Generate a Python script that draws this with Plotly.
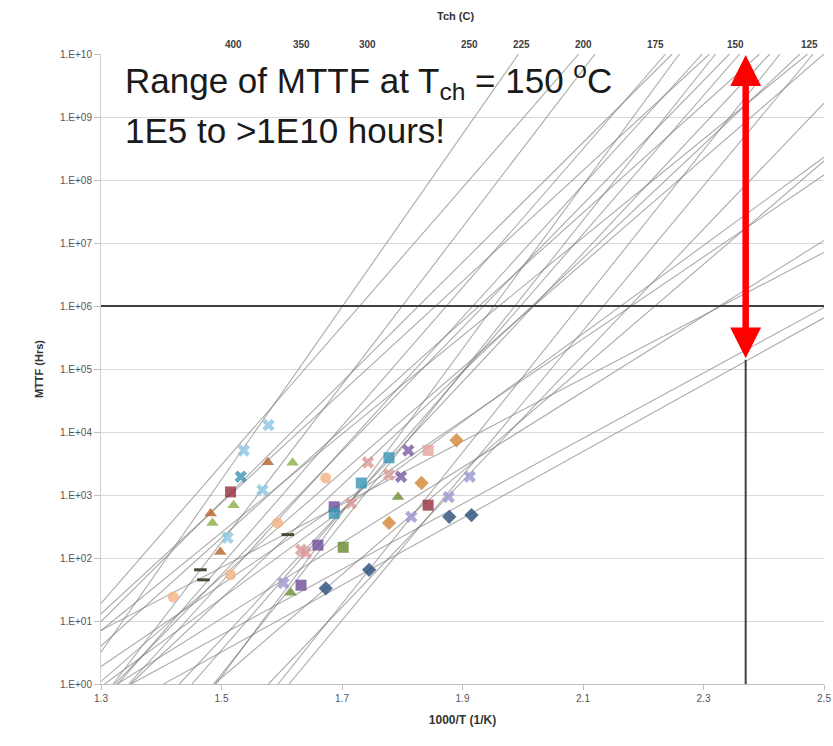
import math
import plotly.graph_objects as go

# ---------------- data ----------------
temps_C = [400, 350, 300, 250, 225, 200, 175, 150, 125]
# where the reference chart places each Tch label along the 1000/T axis
tch_tick_x = [1.503, 1.615, 1.743, 1.912, 1.998, 2.118, 2.237, 2.370, 2.493]
x_ticks = [1.3, 1.5, 1.7, 1.9, 2.1, 2.3, 2.5]
x_tick_labels = ["1.3", "1.5", "1.7", "1.9", "2.1", "2.3", "2.5"]
y_ticks = [1e0, 1e1, 1e2, 1e3, 1e4, 1e5, 1e6, 1e7, 1e8, 1e9, 1e10]
y_tick_labels = ["1.E+00", "1.E+01", "1.E+02", "1.E+03", "1.E+04", "1.E+05",
                 "1.E+06", "1.E+07", "1.E+08", "1.E+09", "1.E+10"]

# Arrhenius trend lines: start / end points (1000/T, MTTF hrs) read where they meet the frame
line_x_start = [1.30, 1.30, 1.32, 1.328, 1.30, 1.491, 1.346, 1.30, 1.487, 1.323, 1.451, 1.30, 1.43,
                1.594, 1.349, 1.30, 1.612, 1.30, 1.578, 1.306, 1.488, 1.30, 1.327, 1.30, 1.35, 1.404]
line_y_start = [3.2, 19, 1, 1, 9.8, 1, 1, 13, 1, 1, 1, 4, 1,
                1, 1, 7, 1, 1.1, 1, 1, 1, 1.9, 1, 7.1, 1, 1]
line_x_end = [1.993, 2.093, 2.12, 2.237, 2.248, 2.26, 2.298, 2.31, 2.32, 2.343, 2.36, 2.393, 2.41,
              2.427, 2.46, 2.473, 2.482, 2.5, 2.5, 2.5, 2.5, 2.5, 2.5, 2.5, 2.5, 2.5]
line_y_end = [1e10, 1e10, 1e10, 1e10, 1e10, 1e10, 1e10, 1e10, 1e10, 1e10, 1e10, 1e10, 1e10,
              1e10, 1e10, 1e10, 1e10, 1e10, 1.66e9, 2.3e8, 2.0e8, 1.2e8, 1.1e7, 7.1e6, 9.5e5, 6.5e5]

# measured devices (1000/T, MTTF hrs)
navy_x = [1.673, 1.745, 1.878, 1.915]
navy_y = [33, 65, 450, 480]
purple_sq_x = [1.632, 1.66, 1.687]
purple_sq_y = [37, 160, 650]
orange_x = [1.778, 1.832, 1.89]
orange_y = [360, 1550, 7400]
peach_x = [1.42, 1.515, 1.593, 1.673]
peach_y = [24, 54, 360, 1860]
green_tri_x = [1.485, 1.52, 1.618]
green_tri_y = [360, 690, 3240]
olive_tri_x = [1.615, 1.793]
olive_tri_y = [28, 930]
teal_sq_x = [1.687, 1.732, 1.778]
teal_sq_y = [510, 1550, 3900]
pink_x_x = [1.632, 1.64, 1.715, 1.743, 1.778]
pink_x_y = [135, 120, 740, 3300, 2100]
pink_sq_x = [1.843]
pink_sq_y = [5100]
lav_x = [1.603, 1.815, 1.877, 1.912]
lav_y = [40, 450, 930, 1950]
red_sq_x = [1.515, 1.843]
red_sq_y = [1120, 690]
brown_x = [1.482, 1.498, 1.577]
brown_y = [510, 125, 3300]
lblue_x = [1.51, 1.537, 1.568, 1.578]
lblue_y = [210, 5100, 1200, 12900]
dash_x = [1.465, 1.47, 1.61]
dash_y = [65, 45, 235]
purple_x_x = [1.798, 1.81]
purple_x_y = [1950, 5100]
green_sq_x = [1.702]
green_sq_y = [148]
teal_x_x = [1.532]
teal_x_y = [1950]

ref_level = 1e6          # 1E6 hours reference line
t150_x = 2.37            # 1000/T at Tch = 150 C (as drawn)
range_low = 1.4e5
range_high = 9.6e9
x_min, x_max = 1.3, 2.5

# ---------------- figure ----------------
fig = go.Figure()

for xs, ys, xe, ye in zip(line_x_start, line_y_start, line_x_end, line_y_end):
    fig.add_trace(go.Scatter(x=[xs, xe], y=[ys, ye], mode="lines",
                             line=dict(color="rgba(120,120,120,0.62)", width=1.1),
                             hoverinfo="skip", showlegend=False))

series = [
    (navy_x, navy_y, "diamond", "#2d4f7c"),
    (purple_sq_x, purple_sq_y, "square", "#6f4f9a"),
    (orange_x, orange_y, "diamond", "#d5873a"),
    (peach_x, peach_y, "circle", "#f3b385"),
    (green_tri_x, green_tri_y, "triangle-up", "#8db04a"),
    (olive_tri_x, olive_tri_y, "triangle-up", "#6f8f35"),
    (teal_sq_x, teal_sq_y, "square", "#3c96b6"),
    (pink_x_x, pink_x_y, "x", "#d99a9a"),
    (pink_sq_x, pink_sq_y, "square", "#e5a39e"),
    (lav_x, lav_y, "x", "#9d98cf"),
    (red_sq_x, red_sq_y, "square", "#9a3241"),
    (brown_x, brown_y, "triangle-up", "#b8652f"),
    (lblue_x, lblue_y, "x", "#8cc6e3"),
    (purple_x_x, purple_x_y, "x", "#7d5ea3"),
    (green_sq_x, green_sq_y, "square", "#6b8c2f"),
    (teal_x_x, teal_x_y, "x", "#3f95b5"),
]
for xs, ys, sym, col in series:
    fig.add_trace(go.Scatter(x=xs, y=ys, mode="markers",
                             marker=dict(symbol=sym, size=11, color=col, opacity=0.82,
                                         line=dict(width=0)),
                             showlegend=False))
fig.add_trace(go.Scatter(x=dash_x, y=dash_y, mode="markers",
                         marker=dict(symbol="line-ew", size=9,
                                     line=dict(width=3, color="#4a4a3a")),
                         showlegend=False))

# reference lines
fig.add_trace(go.Scatter(x=[x_min, x_max], y=[ref_level, ref_level], mode="lines",
                         line=dict(color="#404040", width=2), showlegend=False))
fig.add_trace(go.Scatter(x=[t150_x, t150_x], y=[y_ticks[0], range_low], mode="lines",
                         line=dict(color="#404040", width=2), showlegend=False))

annotations = []
# red double arrow (annotation coords are log10 on a log axis)
annotations.append(dict(x=t150_x, y=math.log10(range_high), ax=t150_x, ay=math.log10(range_low),
                        xref="x", yref="y", axref="x", ayref="y", text="", showarrow=True,
                        arrowside="end+start", arrowhead=2, startarrowhead=2,
                        arrowsize=0.95, startarrowsize=0.95, arrowwidth=6.5,
                        arrowcolor="#ff0000", standoff=0, startstandoff=0))

# top Tch axis labels (paper coords so labels at the very edge still show)
for T, tx in zip(temps_C, tch_tick_x):
    xp = (tx - x_min) / (x_max - x_min)
    annotations.append(dict(x=xp, y=1, xref="paper", yref="paper",
                            text="<b>%d</b>" % T, showarrow=False, yanchor="bottom", yshift=2,
                            font=dict(family="Liberation Sans", size=10, color="#404040")))
annotations.append(dict(x=0.49, y=1, xref="paper", yref="paper", text="<b>Tch (C)</b>",
                        showarrow=False, yanchor="bottom", yshift=30,
                        font=dict(family="Liberation Sans", size=11, color="#333333")))

# call-out text
annotations.append(dict(x=1.336, y=9.58, xref="x", yref="y", xanchor="left", yanchor="middle",
                        text="Range of MTTF at T<sub>ch</sub> = 150 <sup>o</sup>C", showarrow=False,
                        font=dict(family="Liberation Sans", size=35, color="#1a1a1a")))
annotations.append(dict(x=1.336, y=8.79, xref="x", yref="y", xanchor="left", yanchor="middle",
                        text="1E5 to >1E10 hours!", showarrow=False,
                        font=dict(family="Liberation Sans", size=35, color="#1a1a1a")))

fig.update_layout(
    width=833, height=746, autosize=False,
    margin=dict(l=101, r=9, t=54, b=62, autoexpand=False),
    paper_bgcolor="white", plot_bgcolor="white",
    showlegend=False,
    annotations=annotations,
    xaxis=dict(range=[x_min, x_max], tickvals=x_ticks, ticktext=x_tick_labels,
               showgrid=False, zeroline=False, showline=True, linecolor="#bfbfbf", linewidth=1,
               ticks="outside", ticklen=5, tickcolor="#bfbfbf", automargin=False,
               tickfont=dict(family="Liberation Sans", size=10, color="#555555"),
               title=dict(text="<b>1000/T (1/K)</b>", standoff=12,
                          font=dict(family="Liberation Sans", size=12, color="#333333"))),
    yaxis=dict(type="log", range=[0, 10], tickvals=y_ticks, ticktext=y_tick_labels,
               showgrid=True, gridcolor="#d9d9d9", gridwidth=1, zeroline=False,
               showline=True, linecolor="#d0d0d0", linewidth=1,
               ticks="outside", ticklen=6, tickcolor="#bfbfbf", automargin=False,
               tickfont=dict(family="Liberation Sans", size=10, color="#555555"),
               title=dict(text="<b>MTTF (Hrs)</b>", standoff=14,
                          font=dict(family="Liberation Sans", size=11, color="#333333"))),
)

fig.write_html("out.html")
